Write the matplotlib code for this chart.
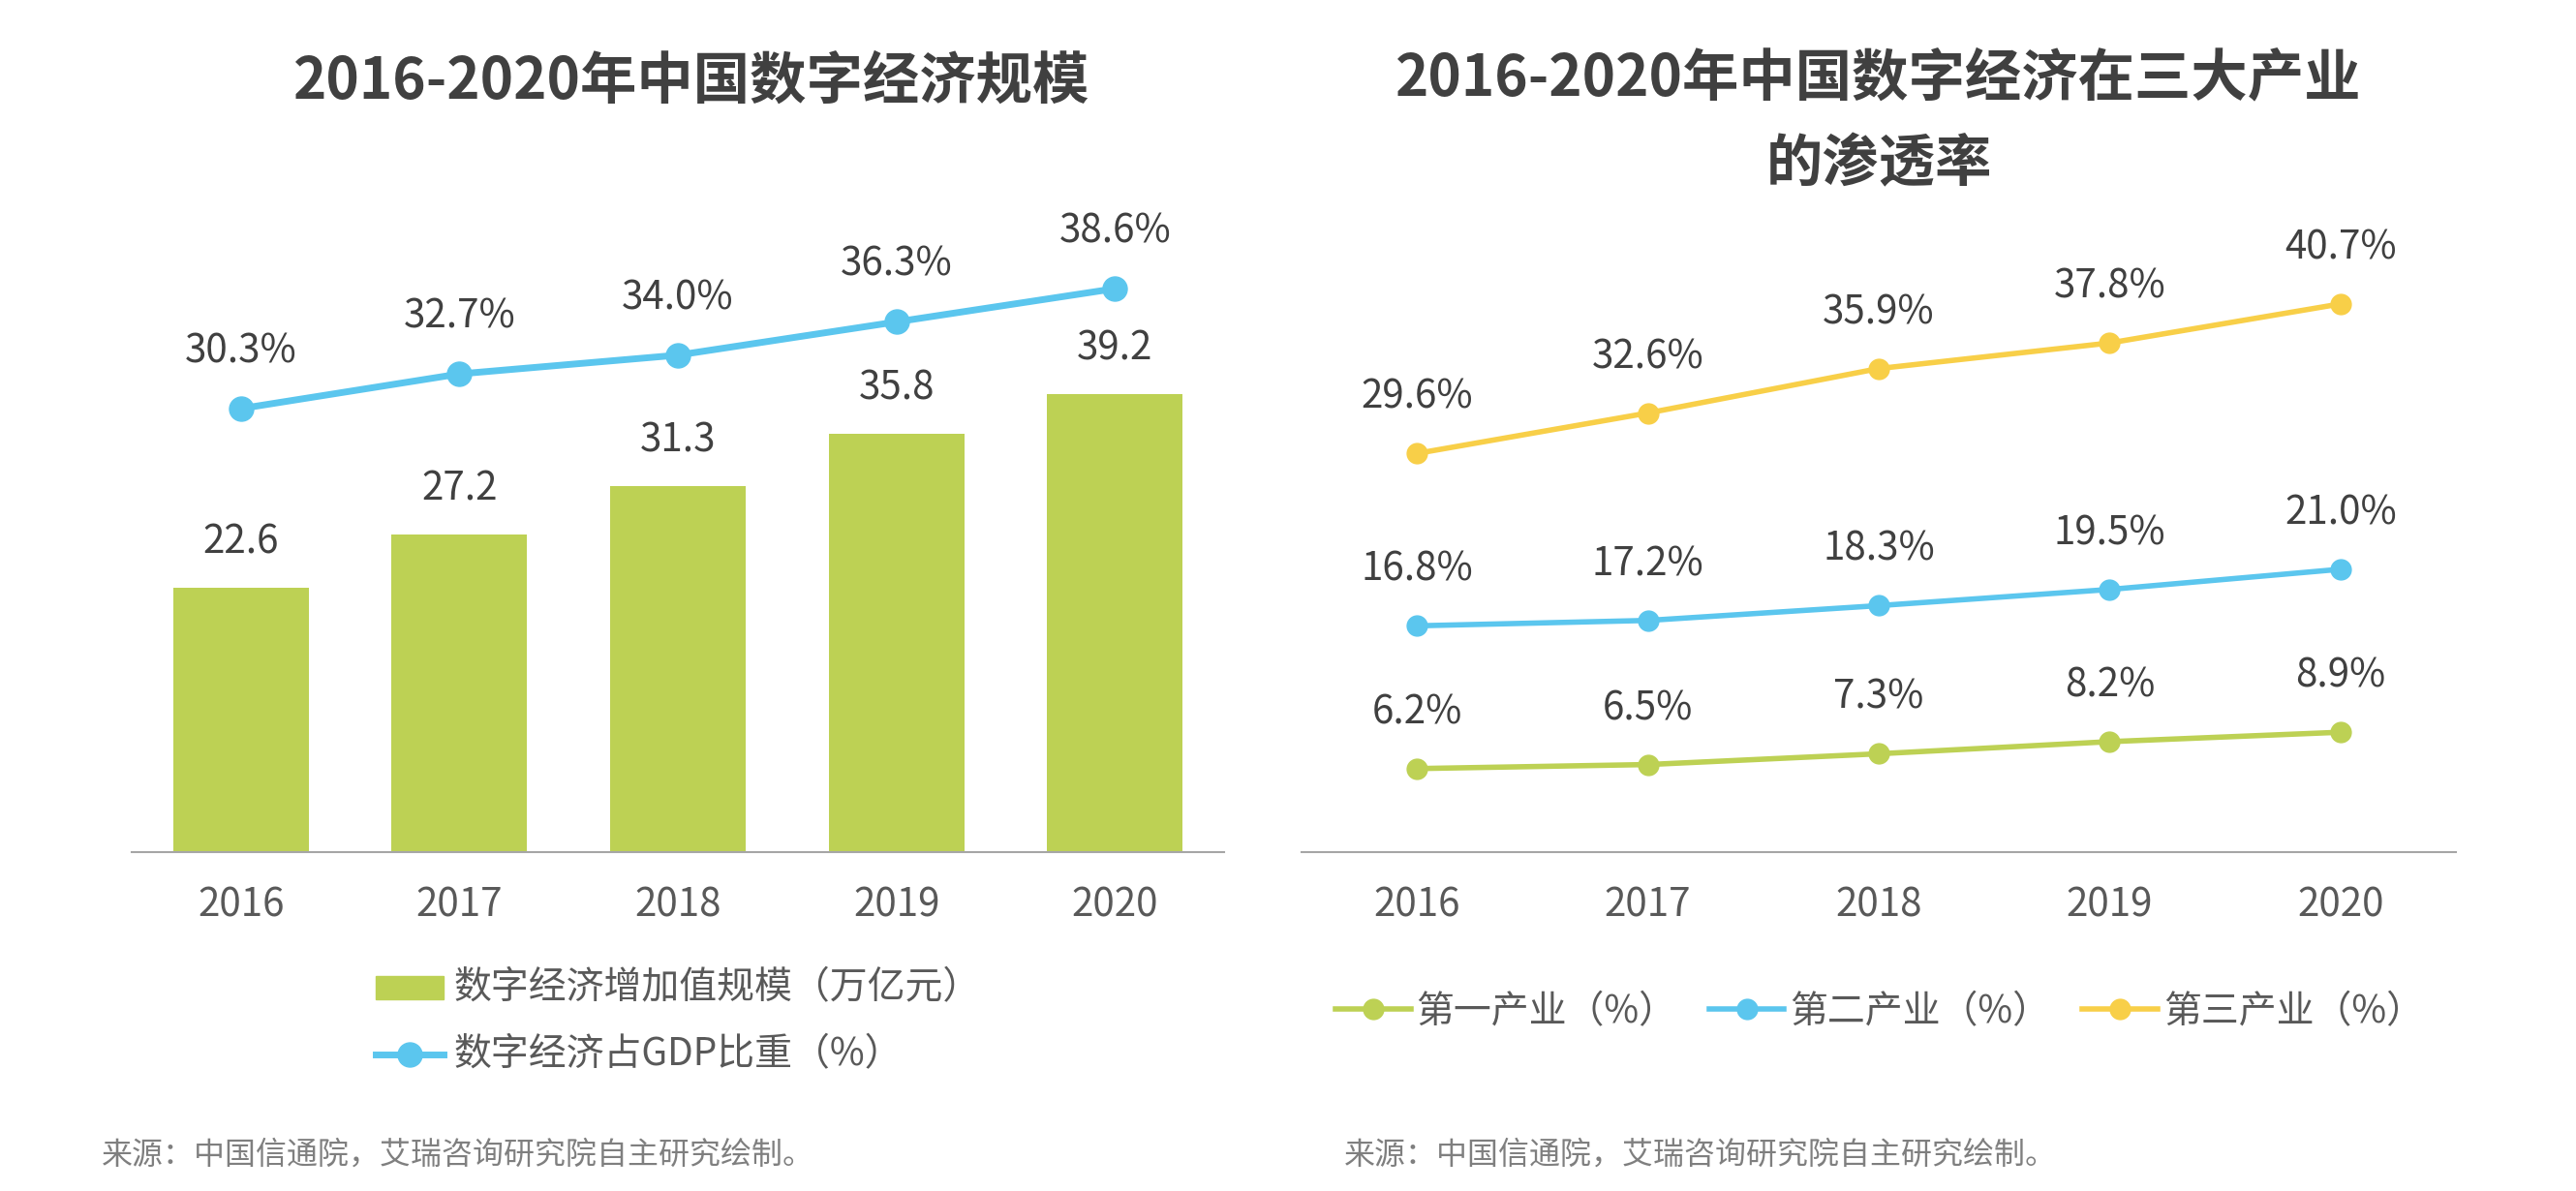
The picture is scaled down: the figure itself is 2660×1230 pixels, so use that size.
import matplotlib
matplotlib.use("Agg")
import matplotlib.pyplot as plt
from matplotlib.patches import Rectangle
from matplotlib.lines import Line2D

plt.rcParams['font.family'] = ['Noto Sans CJK SC', 'DejaVu Sans']

years = ["2016", "2017", "2018", "2019", "2020"]
scale = [22.6, 27.2, 31.3, 35.8, 39.2]          # 万亿元
gdp_share = [30.3, 32.7, 34.0, 36.3, 38.6]      # %
primary = [6.2, 6.5, 7.3, 8.2, 8.9]
secondary = [16.8, 17.2, 18.3, 19.5, 21.0]
tertiary = [29.6, 32.6, 35.9, 37.8, 40.7]

GREEN = "#BDD154"
BLUE = "#5BC6EE"
YELLOW = "#F8CF48"
DARK = "#404040"
TICK = "#595959"
GREY = "#7F7F7F"

W, H = 2660, 1230
fig = plt.figure(figsize=(W / 100, H / 100), dpi=100)

def frac(x0, x1, ybot, ytop):
    return [x0 / W, 1 - ybot / H, (x1 - x0) / W, (ybot - ytop) / H]

x = list(range(len(years)))

# ---------- left chart ----------
ax = fig.add_axes(frac(136, 1264, 880, 220))
ax.bar(x, scale, width=0.62, color=GREEN, zorder=2)
ax.set_xlim(-0.5, 4.5)
ax.set_ylim(0, 660 / 12.07)
for i, v in enumerate(scale):
    ax.annotate(f"{v:.1f}", (i, v), xytext=(0, 47), textcoords="offset pixels",
                ha="center", va="center", fontsize=29, color=DARK)

ax2 = ax.twinx()
ax2.plot(x, gdp_share, color=BLUE, lw=5, marker="o", ms=18, zorder=3)
ax2.set_ylim(-0.4, -0.4 + 660 / 14.92)
for i, v in enumerate(gdp_share):
    ax2.annotate(f"{v:.1f}%", (i, v), xytext=(0, 59), textcoords="offset pixels",
                 ha="center", va="center", fontsize=29, color=DARK)

for a in (ax, ax2):
    for s in ("top", "left", "right"):
        a.spines[s].set_visible(False)
    a.set_yticks([])
ax2.spines["bottom"].set_visible(False)
ax.spines["bottom"].set_color("#A6A6A6")
ax.spines["bottom"].set_linewidth(1.5)
ax.set_xticks(x)
ax.set_xticklabels(years, fontsize=29, color=TICK)
ax.tick_params(axis="x", length=0, pad=25)

fig.text(714 / W, 1 - 85 / H, "2016-2020年中国数字经济规模", ha="center", va="center",
         fontsize=42, fontweight="bold", color=DARK)

# left legend drawn as figure-level artists
fig.add_artist(Rectangle((388 / W, 1 - 1032 / H), 70 / W, 24 / H, color=GREEN,
                         transform=fig.transFigure))
fig.text(468 / W, 1 - 1020 / H, "数字经济增加值规模（万亿元）", ha="left", va="center",
         fontsize=28, color=TICK)
fig.add_artist(Line2D([388 / W, 458 / W], [1 - 1089 / H] * 2, color=BLUE, lw=5,
                      transform=fig.transFigure))
fig.add_artist(Line2D([423 / W], [1 - 1089 / H], color=BLUE, marker="o", ms=18,
                      transform=fig.transFigure))
fig.text(468 / W, 1 - 1089 / H, "数字经济占GDP比重（%）", ha="left", va="center",
         fontsize=28, color=TICK)

fig.text(105 / W, 1 - 1193 / H, "来源：中国信通院，艾瑞咨询研究院自主研究绘制。",
         ha="left", va="center", fontsize=23, color=GREY)

# ---------- right chart ----------
bx = fig.add_axes(frac(1344, 2536, 880, 220))
series = [(primary, GREEN, "第一产业（%）"),
          (secondary, BLUE, "第二产业（%）"),
          (tertiary, YELLOW, "第三产业（%）")]
for vals, col, lab in series:
    bx.plot(x, vals, color=col, lw=4, marker="o", ms=15, label=lab, zorder=3)
    for i, v in enumerate(vals):
        bx.annotate(f"{v:.1f}%", (i, v), xytext=(0, 58), textcoords="offset pixels",
                    ha="center", va="center", fontsize=29, color=DARK)
bx.set_xlim(-0.5, 4.5)
bx.set_ylim(0, 660 / 13.91)
for s in ("top", "left", "right"):
    bx.spines[s].set_visible(False)
bx.spines["bottom"].set_color("#A6A6A6")
bx.spines["bottom"].set_linewidth(1.5)
bx.set_yticks([])
bx.set_xticks(x)
bx.set_xticklabels(years, fontsize=29, color=TICK)
bx.tick_params(axis="x", length=0, pad=25)

leg = bx.legend(loc="center", bbox_to_anchor=(1941 / W, 1 - 1045 / H),
                bbox_transform=fig.transFigure, ncol=3, frameon=False,
                fontsize=28, handlelength=2.0, handletextpad=0.15,
                columnspacing=0.85, labelcolor=TICK)

fig.text(1940 / W, 1 - 81 / H, "2016-2020年中国数字经济在三大产业", ha="center",
         va="center", fontsize=42, fontweight="bold", color=DARK)
fig.text(1940 / W, 1 - 170 / H, "的渗透率", ha="center", va="center",
         fontsize=42, fontweight="bold", color=DARK)
fig.text(1388 / W, 1 - 1193 / H, "来源：中国信通院，艾瑞咨询研究院自主研究绘制。",
         ha="left", va="center", fontsize=23, color=GREY)

fig.savefig("out.png", dpi=100, facecolor="white")
